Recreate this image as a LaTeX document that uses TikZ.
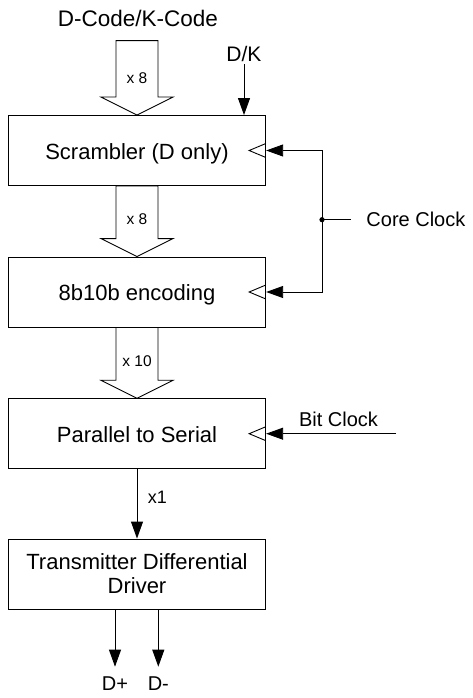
\documentclass[tikz,border=0pt]{standalone}
\usepackage{fontspec}
\setmainfont{Liberation Sans}
\usetikzlibrary{arrows.meta, positioning, calc}

% hollow bus arrow from the top of its shaft (#1) to its tip (#2)
\newcommand{\busarrow}[2]{%
  \draw let \p1=(#1), \p2=(#2) in
    (\x2-21pt,\y1) -- (\x2+21pt,\y1) -- (\x2+21pt,\y2+18pt) -- (\x2+36pt,\y2+18pt)
    -- (\x2,\y2) -- (\x2-36pt,\y2+18pt) -- (\x2-21pt,\y2+18pt) -- cycle;}
% clock input mark on the right side of a block
\newcommand{\clockmark}[1]{%
  \draw ($(#1.east)+(-1,-6.7)$) -- ++(-16,6.7) -- ++(16,6.7);}

\begin{document}
\begin{tikzpicture}[x=1pt, y=-1pt, line width=0.9pt,
  >={Triangle[length=17pt,width=12pt]},
  block/.style={draw, minimum width=257.4pt, minimum height=70pt, align=center,
    font=\fontsize{22}{24}\selectfont},
  oneline/.style={text height=17pt, text depth=0pt},
  lbl/.style={font=\fontsize{20}{22}\selectfont, inner sep=2pt},
  buslbl/.style={font=\fontsize{15.5}{18}\selectfont}]
  \useasboundingbox (0,0) rectangle (472,698);
  % Blocs
  \node[block, oneline] (scr) at (137,150.5) {Scrambler (D only)};
  \node[block, oneline] (enc) at (137,292) {8b10b encoding};
  \node[block, oneline] (ser) at (137,433.7) {Parallel to Serial};
  \node[block] (drv) at (137,574) {Transmitter Differential\\Driver};
  % Entrees
  \node[font=\fontsize{22.5}{24}\selectfont] (code) at (138,18) {D-Code/K-Code};
  \coordinate (codein) at (137,40.7);
  \node[lbl, font=\fontsize{21}{22}\selectfont] (dk) at (244,54) {D/K};
  \draw[->] (dk.south) -- (dk.south |- scr.north);
  % Bus paralleles
  \busarrow{codein}{scr.north}
  \busarrow{scr.south}{enc.north}
  \busarrow{enc.south}{ser.north}
  \node[buslbl] (w1) at ($(scr.north)+(0,-37)$) {x 8};
  \node[buslbl] (w2) at ($(enc.north)+(0,-37)$) {x 8};
  \node[buslbl] (w3) at ($(ser.north)+(0,-37)$) {x 10};
  % Horloges
  \foreach \b in {scr,enc,ser} {\clockmark{\b}}
  \coordinate (cc) at (322,219.7);
  \node[lbl, anchor=west] (core) at (364,219.7) {Core Clock};
  \draw (cc) -- ([xshift=-13pt]core.west);
  \draw[->] (cc) |- (scr.east);
  \draw[->] (cc) |- (enc.east);
  \fill (cc) circle (2.6pt);
  \coordinate (bitin) at (396,433.7);
  \node[lbl] (bit) at (338.5,419) {Bit Clock};
  \draw[->] (bitin) -- (ser.east);
  % Sortie serie
  \draw[->] (ser.south) -- node[pos=0.41, right=7pt, font=\fontsize{18}{20}\selectfont]{x1} (drv.north);
  \node[lbl, inner ysep=10pt] (dp) at (115,684) {D+};
  \node[lbl, inner ysep=10pt] (dm) at (158.3,684) {D-};
  \draw[->] (drv.south -| dp) -- (dp.north);
  \draw[->] (drv.south -| dm) -- (dm.north);
\end{tikzpicture}
\end{document}
